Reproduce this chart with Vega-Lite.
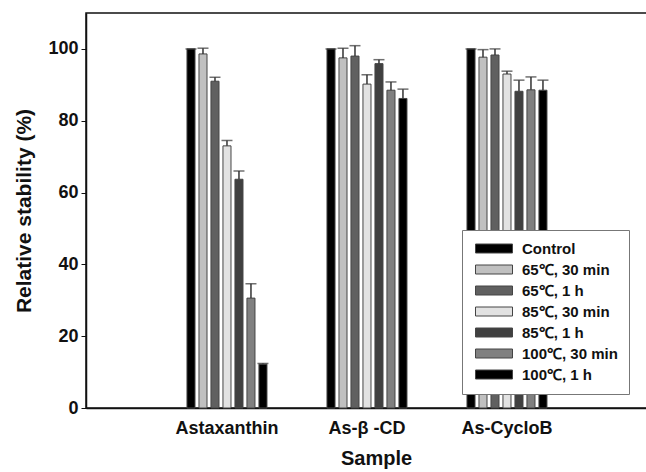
{
  "$schema": "https://vega.github.io/schema/vega-lite/v6.json",
  "width": 580,
  "height": 395,
  "autosize": {"type": "none"},
  "padding": {"left": 86, "top": 13, "right": 0, "bottom": 64},
  "background": "white",
  "config": {
    "view": {"stroke": "#111", "strokeWidth": 1.5},
    "font": "Liberation Sans",
    "axis": {"labelFont": "Liberation Sans", "titleFont": "Liberation Sans", "labelFontWeight": "bold", "titleFontWeight": "bold", "labelColor": "#111", "titleColor": "#111", "domainColor": "#111", "tickColor": "#111", "grid": false},
    "legend": {"labelFont": "Liberation Sans", "labelFontWeight": "bold", "labelFontSize": 15, "labelColor": "#111"}
  },
  "data": {
    "values": [
      {"sample": "Astaxanthin", "treatment": "Control", "value": 100, "hi": 100},
      {"sample": "Astaxanthin", "treatment": "65℃, 30 min", "value": 98.6, "hi": 100.2},
      {"sample": "Astaxanthin", "treatment": "65℃, 1 h", "value": 91.0, "hi": 92.1},
      {"sample": "Astaxanthin", "treatment": "85℃, 30 min", "value": 73.0, "hi": 74.5},
      {"sample": "Astaxanthin", "treatment": "85℃, 1 h", "value": 63.7, "hi": 66.0},
      {"sample": "Astaxanthin", "treatment": "100℃, 30 min", "value": 30.6, "hi": 34.6},
      {"sample": "Astaxanthin", "treatment": "100℃, 1 h", "value": 12.2, "hi": 12.4},
      {"sample": "As-β -CD", "treatment": "Control", "value": 100, "hi": 100},
      {"sample": "As-β -CD", "treatment": "65℃, 30 min", "value": 97.5, "hi": 100.2},
      {"sample": "As-β -CD", "treatment": "65℃, 1 h", "value": 98.0, "hi": 100.9},
      {"sample": "As-β -CD", "treatment": "85℃, 30 min", "value": 90.2, "hi": 92.8},
      {"sample": "As-β -CD", "treatment": "85℃, 1 h", "value": 95.9, "hi": 97.0},
      {"sample": "As-β -CD", "treatment": "100℃, 30 min", "value": 88.5, "hi": 90.8},
      {"sample": "As-β -CD", "treatment": "100℃, 1 h", "value": 86.2, "hi": 88.8},
      {"sample": "As-CycloB", "treatment": "Control", "value": 100, "hi": 100},
      {"sample": "As-CycloB", "treatment": "65℃, 30 min", "value": 97.7, "hi": 99.8},
      {"sample": "As-CycloB", "treatment": "65℃, 1 h", "value": 98.3, "hi": 100.0},
      {"sample": "As-CycloB", "treatment": "85℃, 30 min", "value": 93.0, "hi": 93.8},
      {"sample": "As-CycloB", "treatment": "85℃, 1 h", "value": 88.2, "hi": 91.3},
      {"sample": "As-CycloB", "treatment": "100℃, 30 min", "value": 88.6, "hi": 92.2},
      {"sample": "As-CycloB", "treatment": "100℃, 1 h", "value": 88.5, "hi": 91.3}
    ]
  },
  "encoding": {
    "x": {
      "field": "sample", "type": "nominal", "sort": null,
      "scale": {"domain": ["Astaxanthin", "As-β -CD", "As-CycloB"], "paddingInner": 0.4286, "paddingOuter": 0.7857, "align": 0.459},
      "axis": {"title": "Sample", "labelAngle": 0, "ticks": false, "labelFontSize": 18, "labelPadding": 11, "titleFontSize": 20, "titlePadding": 11, "domainWidth": 1.5}
    },
    "xOffset": {
      "field": "treatment", "type": "nominal", "sort": null,
      "scale": {"domain": ["Control", "65℃, 30 min", "65℃, 1 h", "85℃, 30 min", "85℃, 1 h", "100℃, 30 min", "100℃, 1 h"], "paddingInner": 0.33, "paddingOuter": 0}
    }
  },
  "layer": [
    {
      "mark": {"type": "bar", "stroke": "#444", "strokeWidth": 1},
      "encoding": {
        "y": {
          "field": "value", "type": "quantitative",
          "scale": {"domain": [0, 110], "nice": false},
          "axis": {"title": "Relative stability (%)", "values": [0, 20, 40, 60, 80, 100], "tickSize": 5, "labelFontSize": 18, "labelPadding": 3, "titleFontSize": 21, "titlePadding": 13, "domainWidth": 1.5}
        },
        "fill": {
          "field": "treatment", "type": "nominal", "sort": null,
          "scale": {"domain": ["Control", "65℃, 30 min", "65℃, 1 h", "85℃, 30 min", "85℃, 1 h", "100℃, 30 min", "100℃, 1 h"], "range": ["#000000", "#c0c0c0", "#606060", "#e2e2e2", "#404040", "#808080", "#000000"]},
          "legend": {
            "title": null, "orient": "none", "legendX": 376, "legendY": 217,
            "padding": 11, "strokeColor": "#777", "fillColor": "white",
            "symbolType": "M-1,-0.9H6.4V0.9H-1Z", "symbolSize": 100,
            "symbolStrokeColor": "#444", "symbolStrokeWidth": 1,
            "labelOffset": 34, "rowPadding": 5
          }
        }
      }
    },
    {
      "mark": {"type": "rule", "color": "#333", "strokeWidth": 1.5},
      "encoding": {
        "y": {"field": "value", "type": "quantitative"},
        "y2": {"field": "hi"}
      }
    },
    {
      "mark": {"type": "tick", "color": "#333", "thickness": 1.5, "size": 11},
      "encoding": {
        "y": {"field": "hi", "type": "quantitative"}
      }
    }
  ]
}
